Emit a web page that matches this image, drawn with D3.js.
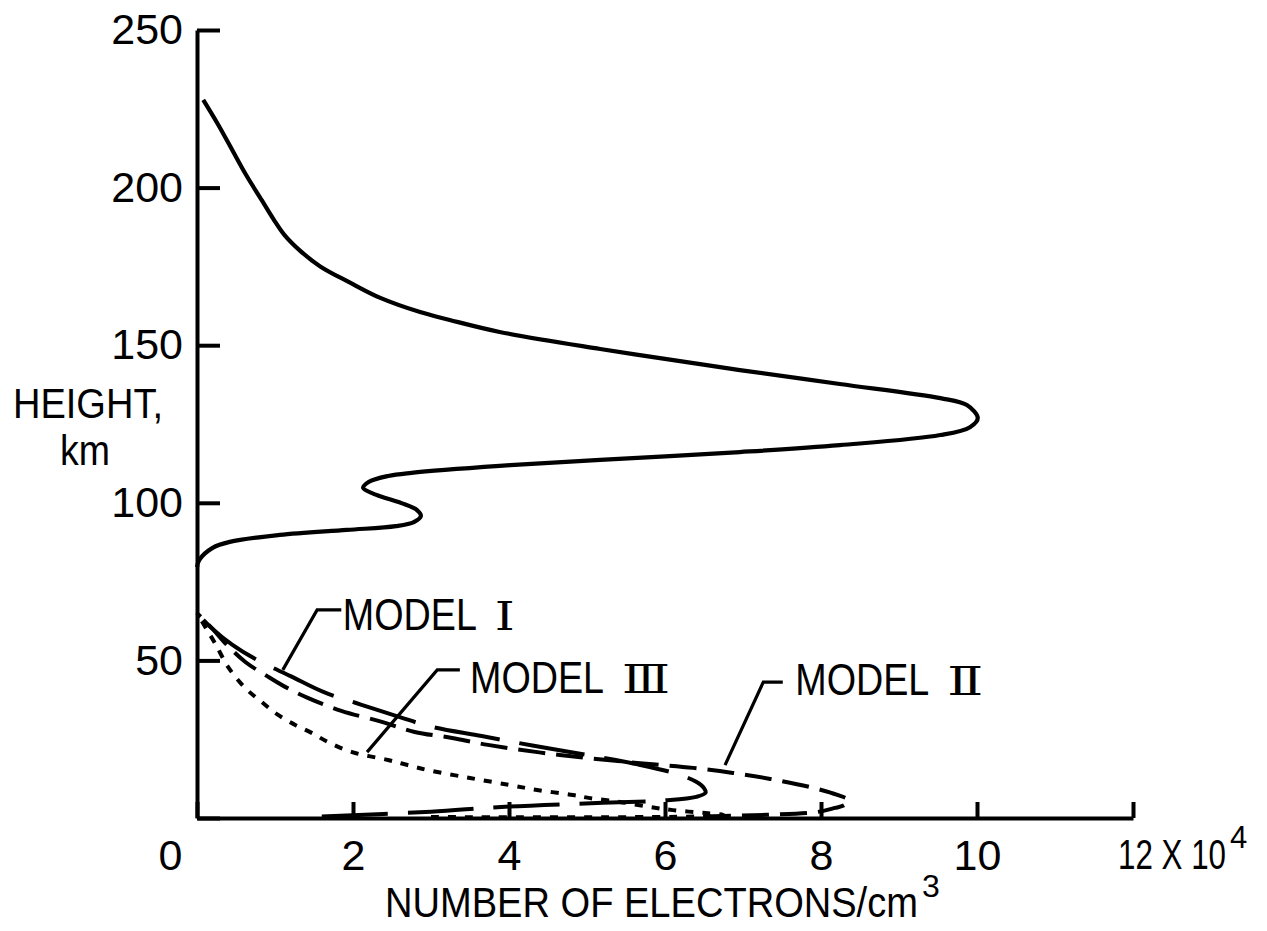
<!DOCTYPE html>
<html>
<head>
<meta charset="utf-8">
<script src="https://cdn.jsdelivr.net/npm/d3@7"></script>
<style>
  html, body { margin: 0; padding: 0; background: #fff; }
  svg { display: block; }
  text { font-family: "Liberation Sans", Arial, sans-serif; fill: #000; }
</style>
</head>
<body>
<svg id="chart" width="1267" height="931"></svg>
<script>
// ---- Measured ionospheric profile: height (km) vs electron density (x10^4 per cm^3)
const profileHeight  = [79.6, 81.9, 85.7, 87.6, 89.8, 91.4, 92.6, 93.9, 95.8, 97.7, 99.9, 102.5, 104.7, 106.6, 108.5, 109.5, 111.7, 113.6, 116.1, 118.3, 121.5, 124.0, 126.9, 131.0, 133.2, 137.7, 142.1, 144.0, 148.8, 154.2, 158.0, 160.5, 165.0, 170.0, 175.0, 180.0, 185.0, 190.0, 196.0, 204.0, 212.0, 220.0, 227.8];
const profileDensity = [0.0, 0.03, 0.20, 0.42, 1.06, 1.92, 2.55, 2.78, 2.87, 2.82, 2.62, 2.30, 2.13, 2.20, 2.45, 2.75, 3.88, 5.17, 6.96, 8.24, 9.53, 9.91, 10.01, 9.87, 9.53, 8.24, 6.96, 6.45, 5.17, 3.88, 3.24, 2.86, 2.35, 1.95, 1.58, 1.32, 1.12, 0.98, 0.83, 0.63, 0.45, 0.27, 0.08];

// ---- Model I
const model1Height  = [0.5, 2.0, 3.5, 4.8, 5.6, 6.7, 8.0, 9.5, 11.5, 14.0, 17.0, 20.0, 23.0, 26.0, 29.0, 32.0, 36.0, 40.0, 45.0, 50.0, 55.0, 60.0, 65.0];
const model1Density = [1.6, 3.0, 3.9, 5.2, 6.0, 6.4, 6.52, 6.5, 6.4, 6.15, 5.65, 5.0, 4.3, 3.65, 3.0, 2.6, 2.1, 1.62, 1.2, 0.78, 0.45, 0.2, 0.0];

// ---- Model II
const model2Height  = [0.5, 1.0, 1.9, 3.2, 4.1, 5.7, 7.3, 9.8, 12.4, 14.3, 15.9, 17.4, 20.0, 23.2, 25.4, 27.3, 30.5, 34.0, 38.1, 41.6, 45.0, 49.5, 55.5, 60.0, 65.0];
const model2Density = [6.5, 7.3, 7.95, 8.18, 8.3, 8.35, 8.21, 7.86, 7.35, 6.87, 6.36, 5.68, 4.65, 3.73, 3.27, 2.79, 2.37, 1.85, 1.42, 1.13, 0.9, 0.62, 0.36, 0.2, 0.0];

// ---- Model III
const model3Height  = [0.3, 0.6, 1.0, 1.5, 2.5, 3.5, 5.1, 6.3, 7.3, 8.9, 10.5, 12.7, 15.2, 16.8, 18.4, 20.9, 24.1, 27.0, 29.5, 32.7, 36.8, 41.2, 47.9, 55.5, 60.0, 65.0];
const model3Density = [3.0, 6.6, 6.75, 6.55, 6.1, 5.8, 5.42, 5.04, 4.82, 4.36, 4.0, 3.5, 2.96, 2.7, 2.45, 1.99, 1.68, 1.47, 1.26, 1.04, 0.83, 0.62, 0.4, 0.23, 0.12, 0.0];

// ---- Axis ticks
const densityTicks = [0, 2, 4, 6, 8, 10, 12];
const heightTicks  = [0, 50, 100, 150, 200, 250];

// ---- Model captions
const modelNames    = ["MODEL", "MODEL", "MODEL"];
const modelNumerals = ["\u2160", "\u2161", "\u2162"];   // I, II, III

const svg = d3.select("#chart");
const x = d3.scaleLinear().domain([0, 12]).range([197, 1133]);
const y = d3.scaleLinear().domain([0, 250]).range([818, 30]);

const toPoints = (hs, ns) => hs.map((h, i) => ({ h, n: ns[i] }));
const line = d3.line()
  .x(d => x(d.n))
  .y(d => y(d.h))
  .curve(d3.curveCatmullRom.alpha(0.5));

// Text squeezed horizontally to a given width (narrow hand lettering)
function narrowText(parent, str, x0, yBase, size, width, family) {
  const t = parent.append("text")
    .attr("font-size", size)
    .attr("transform", `translate(${x0},${yBase})`)
    .text(str);
  if (family) t.style("font-family", family);
  const natural = t.node().getComputedTextLength();
  t.attr("transform", `translate(${x0},${yBase}) scale(${width / natural},1)`);
  return t;
}

// ---- Axes
const yAxis = d3.axisLeft(y)
  .tickValues(heightTicks)
  .tickSizeInner(-23)
  .tickSizeOuter(0)
  .tickPadding(14)
  .tickFormat(d => d === 0 ? "" : d);

const xAxis = d3.axisBottom(x)
  .tickValues(densityTicks)
  .tickSizeInner(-16)
  .tickSizeOuter(0)
  .tickPadding(21)
  .tickFormat(d => d === 12 ? "" : d);

function styleAxis(g) {
  g.attr("font-family", null).attr("font-size", null);
  g.selectAll("path, line").attr("stroke", "#000").attr("stroke-width", 4);
  g.selectAll("text").attr("font-size", 43).attr("fill", "#000");
}

svg.append("g")
  .attr("transform", `translate(${x(0)},0)`)
  .call(yAxis)
  .call(styleAxis);

const gx = svg.append("g")
  .attr("transform", `translate(0,${y(0)})`)
  .call(xAxis)
  .call(styleAxis);

// zero label sits a little to the left of the corner
gx.selectAll(".tick text").filter(d => d === 0).attr("dx", -27);

// "12 X 10^4" multiplier label at the end of the density axis
narrowText(svg, "12 X 10", x(12) - 15, y(0) + 51, 43, 108);
svg.append("text")
  .attr("x", x(12) + 97)
  .attr("y", y(0) + 30)
  .attr("font-size", 31)
  .text("4");

// ---- Axis titles
narrowText(svg, "HEIGHT,", 13, 418, 42, 150);
narrowText(svg, "km", 60, 465, 42, 50);

narrowText(svg, "NUMBER OF ELECTRONS/cm", 385, 917, 42, 533);
svg.append("text")
  .attr("x", 922).attr("y", 897)
  .attr("font-size", 32)
  .text("3");

// ---- Curves
svg.append("path")
  .datum(toPoints(profileHeight, profileDensity))
  .attr("d", line)
  .attr("fill", "none")
  .attr("stroke", "#000")
  .attr("stroke-width", 4.2);

const models = [
  { pts: toPoints(model1Height, model1Density), dash: "66,20" },
  { pts: toPoints(model2Height, model2Density), dash: "27,11" },
  { pts: toPoints(model3Height, model3Density), dash: "8,9" }
];

svg.selectAll("path.model")
  .data(models)
  .join("path")
  .attr("class", "model")
  .attr("d", d => line(d.pts))
  .attr("fill", "none")
  .attr("stroke", "#000")
  .attr("stroke-width", 4)
  .attr("stroke-dasharray", d => d.dash);

// ---- Captions and leaders (positions in data units: density, height)
const captions = [
  { name: modelNames[0], num: modelNumerals[0], at: [1.87, 59.6], numW: 20, leader: [[1.85, 66], [1.54, 66], [1.10, 47]] },
  { name: modelNames[1], num: modelNumerals[1], at: [7.67, 39.0], numW: 36, leader: [[7.51, 43.1], [7.26, 43.1], [6.77, 16.8]] },
  { name: modelNames[2], num: modelNumerals[2], at: [3.50, 39.7], numW: 48, leader: [[3.37, 47], [3.08, 47], [2.18, 20.9]] }
];

const leader = d3.line().x(d => x(d[0])).y(d => y(d[1]));

captions.forEach(c => {
  const g = svg.append("g").attr("class", "caption");
  g.append("path")
    .attr("d", leader(c.leader))
    .attr("fill", "none")
    .attr("stroke", "#000")
    .attr("stroke-width", 3.2);
  const x0 = x(c.at[0]), yb = y(c.at[1]);
  narrowText(g, c.name, x0, yb, 45, 134);
  narrowText(g, c.num, x0 + 152, yb, 40, c.numW, "'DejaVu Serif', 'DejaVu Sans', serif");
});
</script>
</body>
</html>
